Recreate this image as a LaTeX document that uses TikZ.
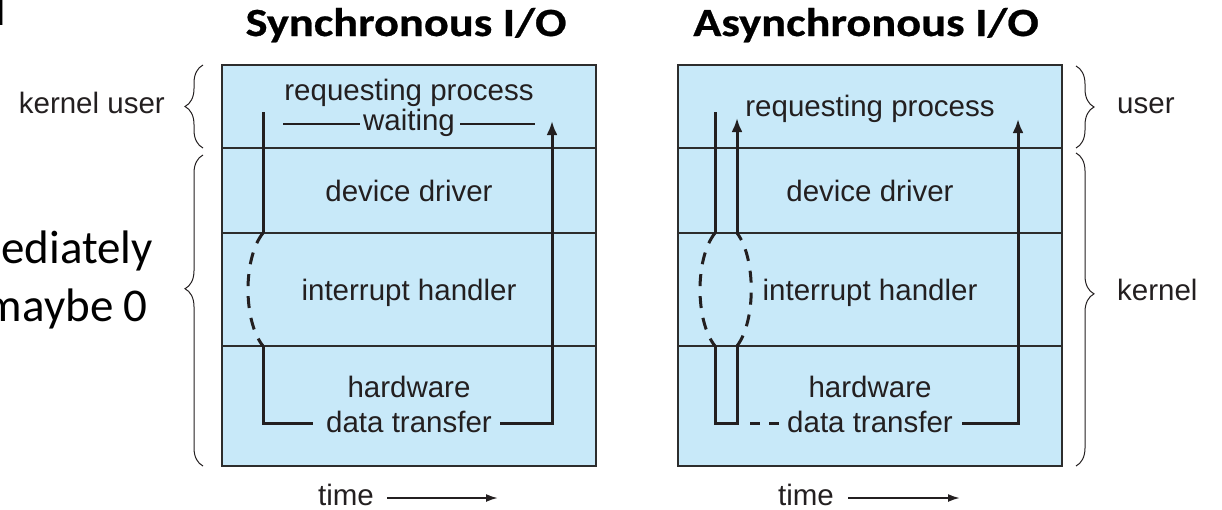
\documentclass[tikz,border=0pt]{standalone}
\usepackage{fontspec}
\setmainfont{Liberation Sans}
\newfontfamily\slidefont{Carlito}
\newfontfamily\titlefont{Carlito}[FakeStretch=1.16,FakeBold=0.6]
\usetikzlibrary{arrows.meta,decorations.pathreplacing}
\definecolor{boxfill}{RGB}{200,233,249}
\definecolor{boxline}{RGB}{45,45,45}
\definecolor{txt}{RGB}{35,31,32}
\begin{document}
\begin{tikzpicture}[x=1pt,y=-1pt,
  lbl/.style={font=\fontsize{29.5}{32}\selectfont, text=txt, inner sep=0pt, anchor=base},
  ttl/.style={font=\titlefont\bfseries\fontsize{40}{44}\selectfont, text=black, inner sep=0pt, anchor=base},
  slide/.style={font=\slidefont\fontsize{47}{52}\selectfont, text=black, inner sep=0pt, anchor=base east},
  layer/.style={fill=boxfill, draw=boxline, line width=1.4pt, inner sep=0pt, minimum width=#1},
  flow/.style={line width=3pt, draw=txt},
  arr/.style={flow, -{Latex[length=14pt,width=11pt]}},
  dsh/.style={flow, dash pattern=on 12pt off 10pt},
  tarr/.style={line width=2pt, draw=txt, -{Latex[length=12pt,width=8pt]}},
  brc/.style={decorate, decoration={brace, amplitude=18pt, aspect=#1}, line width=1pt, draw=txt},
  brc/.default=0.5
]
\useasboundingbox (0,0) rectangle (1222,509);
\clip (0,0) rectangle (1222,509);

% slide text behind
\node[slide] (bg1) at (6,25) {d};
\node[slide] (bg2) at (153,263) {ediately};
\node[slide] (bg3) at (148,321) {maybe 0};

% titles
\node[ttl] (tS) at (406,36) {Synchronous I/O};
\node[ttl] (tA) at (866,36) {Asynchronous I/O};

% ---------- synchronous box ----------
\node[layer=374pt, minimum height=83pt]  (sL1) at (409,106.5) {};
\node[layer=374pt, minimum height=85pt]  (sL2) at (409,190.5) {};
\node[layer=374pt, minimum height=113pt] (sL3) at (409,289.5) {};
\node[layer=374pt, minimum height=120pt] (sL4) at (409,406) {};

\node[lbl] (sReq)  at (409,100) {requesting process};
\node[lbl] (sWait) at (409,130) {waiting};
\node[lbl] (sDev)  at (409,201) {device driver};
\node[lbl] (sInt)  at (409,300) {interrupt handler};
\node[lbl] (sHw)   at (409,397) {hardware};
\node[lbl] (sDt)   at (409,432) {data transfer};
\node[lbl] (sTime) at (346,505) {time};

\coordinate (w1) at (283,124);
\coordinate (w2) at (360,124);
\coordinate (w3) at (460,124);
\coordinate (w4) at (535,124);
\draw[line width=2.5pt, draw=txt] (w1) -- (w2);
\draw[line width=2.5pt, draw=txt] (w3) -- (w4);

\coordinate (s0) at (263,112);
\coordinate (s1) at (263,233);
\coordinate (s2) at (263,346);
\coordinate (s3) at (263,423);
\coordinate (s4) at (313,423);
\coordinate (s5) at (500,423);
\coordinate (s6) at (552,423);
\coordinate (s7) at (552,121);
\draw[flow] (s0) -- (s1);
\draw[dsh] (s1) .. controls (243,258) and (243,321) .. (s2);
\draw[flow] (s2) -- (s3) -- (s4);
\draw[arr] (s5) -- (s6) -- (s7);

\coordinate (st1) at (387,498);
\coordinate (st2) at (498,498);
\draw[tarr] (st1) -- (st2);

% ---------- asynchronous box ----------
\node[layer=384pt, minimum height=83pt]  (aL1) at (870,106.5) {};
\node[layer=384pt, minimum height=85pt]  (aL2) at (870,190.5) {};
\node[layer=384pt, minimum height=113pt] (aL3) at (870,289.5) {};
\node[layer=384pt, minimum height=120pt] (aL4) at (870,406) {};

\node[lbl] (aReq)  at (870,116) {requesting process};
\node[lbl] (aDev)  at (870,201) {device driver};
\node[lbl] (aInt)  at (870,300) {interrupt handler};
\node[lbl] (aHw)   at (870,397) {hardware};
\node[lbl] (aDt)   at (870,432) {data transfer};
\node[lbl] (aTime) at (806,505) {time};

\coordinate (p0) at (715,112);
\coordinate (p1) at (715,233);
\coordinate (p2) at (715,346);
\coordinate (p3) at (715,423);
\coordinate (q3) at (737,423);
\coordinate (q2) at (737,346);
\coordinate (q1) at (737,233);
\coordinate (q0) at (737,118);
\draw[flow] (p0) -- (p1);
\draw[dsh] (p1) .. controls (695,258) and (695,321) .. (p2);
\draw[flow] (p2) -- (p3) -- (q3) -- (q2);
\draw[dsh] (q2) .. controls (756,321) and (756,258) .. (q1);
\draw[arr] (q1) -- (q0);

\coordinate (d1) at (750,423);
\coordinate (d2) at (780,423);
\draw[flow, dash pattern=on 10pt off 9pt] (d1) -- (d2);

\coordinate (r0) at (962,423);
\coordinate (r1) at (1018,423);
\coordinate (r2) at (1018,119);
\draw[arr] (r0) -- (r1) -- (r2);

\coordinate (at1) at (848,498);
\coordinate (at2) at (960,498);
\draw[tarr] (at1) -- (at2);

% ---------- braces ----------
\coordinate (bl1) at (203,148);
\coordinate (bl2) at (203,65);
\coordinate (bl3) at (203,466);
\coordinate (bl4) at (203,155);
\draw[brc] (bl1) -- (bl2);
\draw[brc=0.57] (bl3) -- (bl4);
\node[lbl, anchor=base east] (kuLbl) at (165,113) {kernel user};

\coordinate (br1) at (1076,66);
\coordinate (br2) at (1076,148);
\coordinate (br3) at (1076,153);
\coordinate (br4) at (1076,466);
\draw[brc] (br1) -- (br2);
\draw[brc=0.45] (br3) -- (br4);
\node[lbl, anchor=base west] (uLbl) at (1117,113) {user};
\node[lbl, anchor=base west] (kLbl) at (1117,300) {kernel};
\end{tikzpicture}
\end{document}
